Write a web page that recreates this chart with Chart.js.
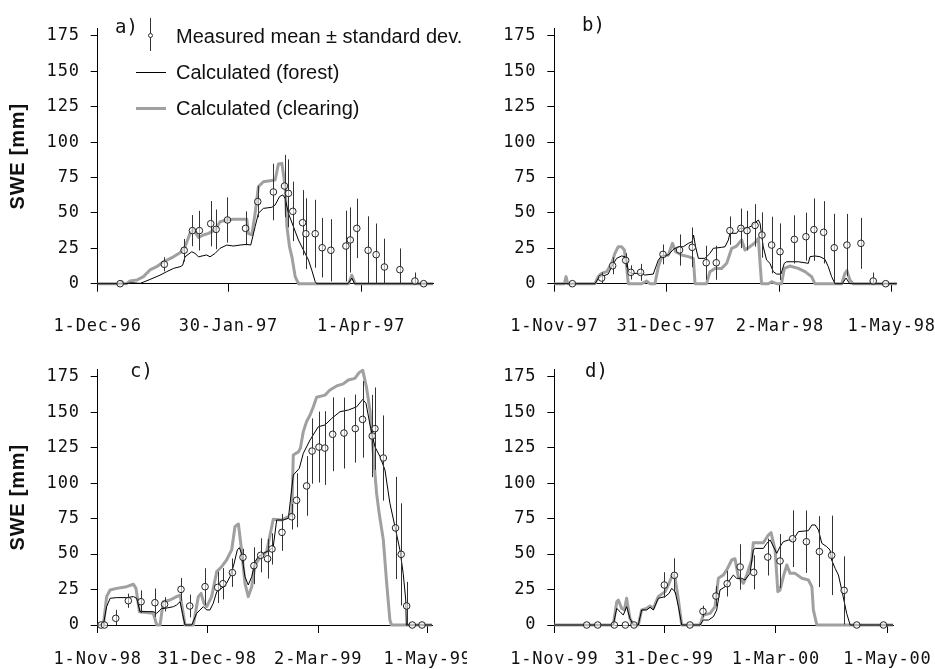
<!DOCTYPE html>
<html>
<head>
<meta charset="utf-8">
<script src="https://cdn.jsdelivr.net/npm/chart.js@4.4.1/dist/chart.umd.min.js"></script>
<style>
  body { margin:0; width:935px; height:669px; overflow:hidden; position:relative; background:#fff; }
  canvas { position:absolute; }
  .txt { position:absolute; font-family:"Liberation Sans", Arial, sans-serif; font-size:20px; line-height:20px; color:#111; white-space:nowrap; }
  .tag { position:absolute; font-family:"DejaVu Sans Mono", monospace; font-size:19px; line-height:19px; color:#111; }
  .mark { position:absolute; }
</style>
</head>
<body>
<canvas id="panelA" width="467" height="345" style="left:0;top:0"></canvas>
<canvas id="panelB" width="468" height="345" style="left:467px;top:0"></canvas>
<canvas id="panelC" width="467" height="324" style="left:0;top:345px"></canvas>
<canvas id="panelD" width="468" height="324" style="left:467px;top:345px"></canvas>

<div class="tag" style="left:115px;top:17px">a)</div>
<div class="tag" style="left:582px;top:15px">b)</div>
<div class="tag" style="left:130px;top:361px">c)</div>
<div class="tag" style="left:585px;top:361px">d)</div>

<!-- legend (panel a) -->
<div class="mark" style="left:150px;top:18px;width:1px;height:33px;background:#333"></div>
<div class="mark" style="left:148px;top:33px;width:5px;height:5px;border:1px solid #333;border-radius:50%;background:#fff;box-sizing:border-box"></div>
<div class="txt" style="left:176px;top:26px">Measured mean ± standard dev.</div>
<div class="mark" style="left:136px;top:71.5px;width:30px;height:1px;background:#000"></div>
<div class="txt" style="left:176px;top:61.5px">Calculated (forest)</div>
<div class="mark" style="left:136px;top:106.5px;width:30px;height:3px;background:#a0a0a0"></div>
<div class="txt" style="left:176px;top:98px">Calculated (clearing)</div>

<script>
// x values are days after the first tick date of each panel, y values SWE in mm
const yTicks = [0, 25, 50, 75, 100, 125, 150, 175];

// a) winter 1996/97
const aTickDays = [0, 60, 121];
const aTickLabels = ['1-Dec-96', '30-Jan-97', '1-Apr-97'];
const aForestDay = [0, 13, 15.6, 19.5, 24, 28.6, 31.7, 34.8, 37.8, 39, 40.1, 43.2, 44.7, 46.3, 50, 51.6, 53.9, 56.2, 59.3, 62.3, 65.4, 68.5, 70.3, 71.2, 72.3, 73.8, 76.1, 80, 81.5, 83.5, 85, 86.1, 87.6, 89.9, 92.2, 94.5, 96.8, 98.3, 99.9, 100.6, 115, 116.7, 118, 154];
const aForestSwe = [0, 0, 0.7, 0.2, 3, 6, 8.5, 10.8, 12, 13, 19, 22.6, 21.4, 19, 20.3, 19, 21.4, 25, 27.3, 26.6, 27.3, 27.8, 27.3, 33.2, 40.3, 49.7, 53.2, 54, 55.6, 61.5, 62.7, 60.3, 49.7, 40.3, 30.9, 23.8, 16.7, 9.7, 1.4, 0, 0, 4, 0, 0];
const aClearDay = [0, 10.3, 11, 12, 13.3, 14.9, 18, 21, 24, 27.1, 30.2, 32.5, 34.8, 37.8, 40.1, 42.4, 44, 46.3, 48.6, 50.9, 53.9, 56.2, 59.3, 62.3, 68.5, 69.2, 70.8, 72.3, 73.8, 76.1, 79.2, 81.5, 83, 84.6, 86.1, 86.9, 88.1, 89.2, 90.7, 92.2, 115.2, 116.7, 118.3, 154];
const aClearSwe = [0, 0, 1.5, 0, 0, 2, 2.6, 5, 9.7, 12, 15.5, 17.2, 19, 21.9, 26, 35.6, 38.4, 32.7, 34.4, 35.6, 38, 43.8, 45, 45.5, 45.5, 35.6, 34.4, 49.7, 68.6, 72, 72.8, 73.3, 84.6, 85, 68.6, 40.3, 26, 19, 5, 0, 0, 6, 0, 0];
const aMeasDay = [10.3, 30.6, 39.7, 43.5, 46.7, 51.9, 54.4, 59.6, 67.9, 73.5, 80.7, 85.8, 87.6, 89.6, 94.1, 95.6, 99.9, 103.1, 107.1, 114, 116, 119, 124.2, 127.9, 131.7, 138.8, 145.7, 149.7];
const aMeasMean = [0, 13.7, 23.6, 37.5, 37.5, 42.4, 38.4, 45, 39.1, 58, 64.8, 69, 63.8, 51.1, 43.1, 35.3, 35.3, 25.4, 23.6, 26.6, 30.9, 39.1, 23.6, 20.5, 11.8, 9.9, 1.9, 0];
const aMeasSd = [0, 5, 8, 11, 14, 16, 14, 16, 12, 11, 20, 22, 24, 21, 23, 25, 24, 21, 22, 25, 23, 21, 24, 22, 20, 15, 6, 0];

// b) winter 1997/98
const bTickDays = [0, 60, 121, 181];
const bTickLabels = ['1-Nov-97', '31-Dec-97', '2-Mar-98', '1-May-98'];
const bForestDay = [0, 21.8, 23.6, 25.4, 27.2, 28.9, 30.8, 33.4, 36.1, 37.9, 38.8, 39.7, 41.5, 46.9, 48.6, 53.1, 55.8, 57.6, 61.2, 63.9, 66.5, 69.2, 71.9, 74, 74.7, 75.8, 77.3, 80.8, 83.5, 85.3, 89.8, 91.6, 93.4, 94.2, 97.8, 99.6, 103.2, 105.9, 107.7, 109.5, 110.4, 112.1, 113.9, 115.7, 117.5, 119.3, 121.6, 123.4, 124.6, 130.9, 136.3, 137.2, 139.8, 142.5, 145.2, 147, 148.8, 150.6, 154.5, 156.5, 158.5, 183.7];
const bForestSwe = [0, 0, 3.8, 5.4, 5.9, 6.8, 12, 17.9, 19.6, 19.1, 17.2, 8.5, 7.3, 7.3, 6.1, 6.8, 16.7, 19.6, 20.3, 24.3, 26.1, 26.1, 28.5, 29.7, 34.4, 26.1, 17.9, 17.9, 21.4, 25, 25.7, 26.1, 30.9, 35.6, 35.6, 39.1, 39.1, 40.8, 43.1, 45, 42.6, 26.1, 16.7, 14.4, 8.5, 6.8, 6.8, 14.4, 15.5, 15.5, 14.4, 19.1, 19.6, 19.1, 17.2, 12, 4.9, 0, 0, 4, 0, 0];
const bClearDay = [0, 5.4, 6.3, 7.2, 21.8, 23.6, 25.4, 28.1, 30.8, 32.5, 34.3, 36.1, 37.6, 38.8, 39.7, 46.9, 49.5, 51.3, 54, 55.8, 57.6, 61.2, 63.4, 65.1, 68.3, 71.9, 74.6, 75.5, 81.7, 83.5, 86.2, 89.8, 92.5, 95.2, 97.8, 100.5, 102.3, 104.9, 107.7, 109.5, 110.4, 111.2, 114.8, 116.6, 119.3, 121.9, 123.4, 126.4, 130.9, 134.5, 138.1, 139.8, 154.2, 155.9, 157, 158.6, 160.4, 183.7];
const bClearSwe = [0, 0, 5, 0, 0, 5, 7.3, 8.5, 14.4, 21.4, 26.1, 26.1, 23.8, 12, 0, 0, 1.9, 0, 0, 12, 19.1, 20.3, 28.5, 22.6, 20.3, 19.1, 17.9, 0, 0, 8.5, 10.8, 10.8, 14.4, 25, 26.6, 30.9, 23.8, 26.1, 29, 32, 14.4, 0, 0, 1.4, 0, 0, 10.8, 12.5, 10.8, 8.5, 4.9, 0, 0, 7.3, 9.2, 2.6, 0, 0];
const bMeasDay = [9.7, 25.4, 31.3, 38.3, 41.1, 46.3, 58.3, 67.2, 74, 81.5, 86.9, 94.2, 100.1, 103.4, 107.7, 111.4, 116.6, 121.1, 128.8, 135, 139.3, 144.5, 150.2, 157, 164.5, 171.1, 177.8];
const bMeasMean = [0, 4, 12.7, 16.5, 8, 8, 20.7, 23.8, 25.7, 14.8, 14.8, 37.5, 39.1, 37.5, 41.2, 34.4, 27.3, 22.6, 31.3, 33.2, 38.2, 36.3, 25.4, 27.3, 28.5, 1.9, 0];
const bMeasSd = [0, 4, 6, 5, 5, 6, 7, 11, 14, 12, 12, 10, 14, 14, 15, 16, 20, 20, 17, 17, 22, 22, 24, 22, 18, 6, 0];

// c) winter 1998/99
const cTickDays = [0, 60, 121, 181];
const cTickLabels = ['1-Nov-98', '31-Dec-98', '2-Mar-99', '1-May-99'];
const cForestDay = [0, 3.1, 4.9, 6.8, 10.4, 15.9, 19.6, 21.4, 23.2, 30.5, 32.4, 35.1, 36.9, 41.5, 43.3, 45.2, 46.5, 47.9, 51.6, 54.3, 56.1, 58, 59.8, 61.6, 63.4, 65.3, 68, 70.7, 72.6, 74.4, 76.6, 77.7, 78.9, 80.8, 82.6, 84.5, 86.3, 88.1, 90.9, 94.5, 96.3, 98.2, 101.8, 104.6, 107.3, 110.6, 112.8, 116.5, 121, 124.7, 128.4, 132.9, 137.5, 142.1, 145.4, 147.2, 149.4, 152.1, 154.9, 157.6, 160.3, 163.1, 165.8, 167.6, 169, 169.3, 183.4];
const cForestSwe = [0, 0, 12.9, 18.8, 19.3, 19.3, 20, 18.8, 9.4, 9.4, 8.2, 11.7, 11.7, 12.9, 14.1, 16.4, 8.2, 0, 0, 8.2, 10.6, 12.9, 10.6, 10.6, 15.3, 23.5, 25.8, 29.4, 34.1, 41.1, 52.9, 54.5, 50.5, 34.1, 28.2, 34.1, 44.6, 48.2, 50.5, 52.9, 55.2, 74, 74, 75.2, 105.7, 110.4, 121, 130.4, 139.7, 141, 145.6, 150.3, 151.5, 153.8, 159, 156.2, 141, 125.6, 118.6, 109.2, 85.8, 69.3, 52.9, 36.4, 17.6, 0, 0];
const cClearDay = [0, 3.1, 4.9, 6.8, 10.4, 15.9, 19.6, 21, 22.9, 30.5, 32.4, 34.2, 36, 39.7, 43.3, 45.2, 46.6, 47.9, 52.5, 55.2, 56.7, 58.3, 59.8, 62.5, 65.3, 68, 70.7, 73.5, 75.3, 77.2, 78.9, 80.8, 82.6, 84.5, 86.3, 89, 92.7, 96.3, 100.9, 105.5, 106.5, 107.3, 110.1, 111.2, 112.8, 114.6, 116.5, 118.3, 120.1, 124.7, 127.4, 131.1, 134.7, 137.5, 141.1, 143.5, 145.4, 147.5, 149.4, 151.2, 153, 154.5, 156.7, 158.5, 160.3, 161.2, 183.4];
const cClearSwe = [0, 0, 20, 24.7, 25.8, 27, 28.7, 25.8, 9.4, 8.2, 0, 0, 16.4, 17.6, 20, 21.1, 10.6, 0, 0, 20, 22.3, 15.3, 12.9, 20, 37.6, 41.1, 45.8, 52.9, 69.3, 71.2, 52.9, 29.4, 20, 27, 42.3, 47.7, 51.7, 74.5, 74, 77, 79, 119.8, 122, 124.5, 136.3, 143.4, 148, 153.8, 160.5, 162, 165.6, 168.5, 169.9, 172.7, 173.8, 178, 179.5, 167.3, 151, 121, 92.8, 78, 60, 30, 3.5, 0, 0];
const cMeasDay = [1.8, 3.7, 9.9, 16.8, 23.8, 31.4, 36.7, 45.7, 50.5, 58.9, 65.8, 68.7, 73.9, 79.7, 85.7, 89.4, 93.2, 95.6, 101.1, 106.4, 109.1, 114.6, 117.6, 121.4, 124.6, 128.9, 135.1, 141.3, 145.3, 150.6, 152.1, 156.7, 163.4, 166.5, 169.5, 172.6, 177.9];
const cMeasMean = [0, 0, 4.7, 17.1, 16.4, 15.7, 14.6, 25.1, 13.4, 27, 26.5, 29.1, 36.9, 47.7, 41.8, 49.1, 46.7, 53.6, 65.3, 76.3, 87.9, 98, 122.6, 125.4, 124.7, 134.4, 135.3, 138.4, 144.9, 133.2, 138.4, 117.7, 68.4, 49.8, 13.4, 0, 0];
const cMeasSd = [0, 0, 6, 5, 8, 10, 5, 8, 8, 13, 11, 11, 10, 6, 13, 12, 14, 11, 13, 9, 19, 21, 23, 25, 26, 26, 25, 24, 27, 29, 29, 30, 36, 36, 17, 0, 0];

// d) winter 1999/2000
const dTickDays = [0, 60, 121, 182];
const dTickLabels = ['1-Nov-99', '31-Dec-99', '1-Mar-00', '1-May-00'];
const dForestDay = [0, 32.2, 34.1, 35.9, 37.7, 39.5, 41.3, 43.2, 45.9, 47.7, 50.5, 52.3, 54.1, 56.8, 60.5, 62.7, 64.1, 66, 67.8, 69.6, 79.6, 81.4, 84.2, 86.9, 88.7, 90.5, 93.3, 95.1, 97.8, 99.6, 102.4, 104.2, 106.9, 108.7, 109.7, 114.2, 116.1, 117.9, 120.6, 121.5, 123.3, 125.1, 127.9, 129.7, 131.5, 133.3, 138.8, 140.7, 142.5, 144.3, 146.1, 148.8, 150.6, 151.5, 153.4, 155.2, 157, 159.7, 161.6, 185];
const dForestSwe = [0, 0, 11.7, 9.4, 7, 12.9, 4.7, 0, 0, 10.6, 10.6, 12.5, 10.6, 18.8, 20, 22.3, 25.8, 23.5, 12.9, 0, 0, 3.5, 3.5, 5.9, 10.6, 24.7, 27, 30.5, 35.2, 32.9, 32.9, 31.7, 36.4, 52.9, 54, 54, 57.6, 59.9, 52.9, 50.5, 55.2, 58.7, 59.9, 59.9, 62.2, 65.8, 66.5, 70.5, 70.5, 66.9, 57.6, 55.2, 52.9, 45.8, 39.9, 35.2, 24.7, 8.2, 0, 0];
const dClearDay = [0, 32.2, 34.1, 35, 36.8, 38.3, 39.5, 41.3, 43.2, 45.9, 47.7, 50.5, 52.3, 54.1, 56.8, 60.5, 62.7, 64.5, 66, 67.8, 69.6, 79.6, 81.4, 85.1, 87.8, 89.6, 92.3, 94.2, 96.9, 98.7, 100.5, 103.3, 105.1, 107.8, 108.7, 114.2, 116.9, 118.4, 120.6, 122.1, 123.3, 125.1, 127, 128.8, 131.5, 135.2, 138.8, 140.7, 141.5, 143.4, 185];
const dClearSwe = [0, 0, 16.4, 17.6, 11.7, 10.6, 18.8, 4.7, 0, 0, 10.6, 11.7, 13.4, 11.7, 20, 23.5, 29.4, 35.2, 32.9, 17.6, 0, 0, 7, 8.2, 12.9, 32.9, 35.2, 38.8, 45.8, 46.7, 34.1, 29.4, 35.2, 45.8, 58, 58, 63.4, 65.1, 52.9, 23.5, 24.7, 34.1, 42.3, 36.4, 36.4, 32.9, 31.7, 27, 10.6, 0, 0];
const dMeasDay = [17.7, 23.7, 32.8, 38.8, 43.5, 60.1, 65.6, 74.1, 81.2, 88.3, 94.4, 101.5, 108.9, 116.6, 123.3, 130.2, 137.7, 144.8, 151.5, 158.3, 165.2, 179.8];
const dMeasMean = [0, 0, 0, 0, 0, 28.2, 35, 0, 9.6, 20.4, 29.1, 40.9, 37.1, 47.9, 45.1, 60.8, 58.7, 51.7, 49.1, 24.4, 0, 0];
const dMeasSd = [0, 0, 0, 0, 0, 9, 12, 0, 4, 7, 9, 16, 12, 13, 19, 20, 22, 25, 28, 24, 0, 0];

const tickFont = { family: '"DejaVu Sans Mono", monospace', size: 17 };

// wider glyph spacing like the original axis font
const spacing = {
  id: 'spacing',
  beforeUpdate(c) { c.ctx.letterSpacing = '0.8px'; },
  beforeDraw(c) { c.ctx.letterSpacing = '0.8px'; }
};

// vertical +/- sd whiskers under the measured circles
const errorBars = {
  id: 'errorBars',
  beforeDatasetDraw(chart, args) {
    const ds = chart.data.datasets[args.index];
    if (!ds.sd) return;
    const { ctx, scales: { x, y } } = chart;
    ctx.save();
    ctx.strokeStyle = '#333';
    ctx.lineWidth = 1;
    ds.data.forEach((p, i) => {
      const s = ds.sd[i];
      if (!s) return;
      const px = Math.round(x.getPixelForValue(p.x)) + 0.5;
      ctx.beginPath();
      ctx.moveTo(px, y.getPixelForValue(Math.max(0, p.y - s)));
      ctx.lineTo(px, y.getPixelForValue(p.y + s));
      ctx.stroke();
    });
    ctx.restore();
  }
};

const xy = (xs, ys) => xs.map((x, i) => ({ x, y: ys[i] }));

function makePanel(id, box, xMax, tickDays, tickLabels, forest, clearing, meas, showTitle) {
  const cv = document.getElementById(id);
  return new Chart(cv, {
    type: 'line',
    data: {
      datasets: [
        { label: 'Measured', data: xy(meas[0], meas[1]), sd: meas[2], showLine: false,
          pointRadius: 3.3, pointBorderWidth: 1, pointBorderColor: '#222',
          pointBackgroundColor: 'rgba(255,255,255,0.6)', order: 0, clip: false },
        { label: 'Calculated (forest)', data: xy(forest[0], forest[1]), borderColor: '#000',
          borderWidth: 1, pointRadius: 0, order: 1, clip: false },
        { label: 'Calculated (clearing)', data: xy(clearing[0], clearing[1]), borderColor: '#a0a0a0',
          borderWidth: 3, borderJoinStyle: 'round', pointRadius: 0, order: 2, clip: false }
      ]
    },
    options: {
      responsive: false,
      animation: false,
      events: [],
      layout: { padding: { left: 0, top: box.t, right: cv.width - box.r, bottom: 0 } },
      plugins: { legend: { display: false }, tooltip: { enabled: false } },
      scales: {
        x: {
          type: 'linear', min: 0, max: xMax,
          afterBuildTicks: s => { s.ticks = tickDays.map(v => ({ value: v })); },
          afterFit: s => { s.height = cv.height - box.b; s.paddingLeft = 0; s.paddingRight = 0; },
          ticks: { callback: (v, i) => tickLabels[i], font: tickFont, color: '#111',
                   padding: box.pad, maxRotation: 0, autoSkip: false },
          grid: { drawOnChartArea: false, tickLength: 8, color: '#000' },
          border: { color: '#000', width: 1 }
        },
        y: {
          min: 0, max: 180,
          afterBuildTicks: s => { s.ticks = yTicks.map(v => ({ value: v })); },
          afterFit: s => { s.width = box.l; s.paddingTop = 0; s.paddingBottom = 0; },
          ticks: { font: tickFont, color: '#111', padding: 11 },
          grid: { drawOnChartArea: false, tickLength: 7, color: '#000' },
          border: { color: '#000', width: 1 },
          title: { display: showTitle, text: 'SWE [mm]', color: '#111',
                   font: { family: '"Liberation Sans", Arial, sans-serif', size: 20, weight: 'bold' },
                   padding: { top: 6, bottom: 0 } }
        }
      }
    },
    plugins: [spacing, errorBars]
  });
}

makePanel('panelA', { l: 97.7, t: 28.9, r: 433, b: 283.7, pad: 25 }, 154, aTickDays, aTickLabels,
  [aForestDay, aForestSwe], [aClearDay, aClearSwe], [aMeasDay, aMeasMean, aMeasSd], true);
makePanel('panelB', { l: 87.3, t: 28.9, r: 429.7, b: 283.7, pad: 25 }, 183.7, bTickDays, bTickLabels,
  [bForestDay, bForestSwe], [bClearDay, bClearSwe], [bMeasDay, bMeasMean, bMeasSd], false);
makePanel('panelC', { l: 97.7, t: 24.6, r: 432, b: 280, pad: 16.8 }, 183.4, cTickDays, cTickLabels,
  [cForestDay, cForestSwe], [cClearDay, cClearSwe], [cMeasDay, cMeasMean, cMeasSd], true);
makePanel('panelD', { l: 87.3, t: 24.6, r: 426, b: 280, pad: 16.8 }, 185, dTickDays, dTickLabels,
  [dForestDay, dForestSwe], [dClearDay, dClearSwe], [dMeasDay, dMeasMean, dMeasSd], false);
</script>
</body>
</html>
